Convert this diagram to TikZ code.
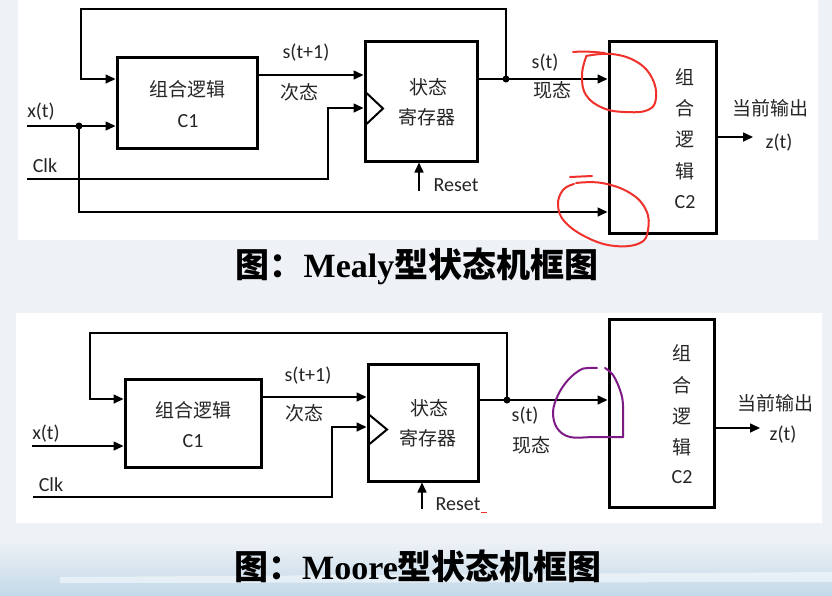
\documentclass[tikz,border=0pt]{standalone}
\usepackage{fontspec}
\setmainfont{Liberation Serif}
\newfontfamily\lab{Carlito}
\newfontfamily\cjk{Noto Sans CJK SC}
\usetikzlibrary{arrows.meta,calc}
\definecolor{bgc}{HTML}{EEF2F6}
\definecolor{bandc}{HTML}{C3D9E9}
\definecolor{txt}{HTML}{262626}
\definecolor{redpen}{HTML}{F0302A}
\definecolor{purplepen}{HTML}{7E1A86}
\begin{document}
\begin{tikzpicture}[x=1pt,y=-1pt,
  box/.style={draw=black,line width=3pt,inner sep=0pt},
  wire/.style={line width=1.6pt},
  arr/.style={line width=1.6pt,-{Triangle[length=10pt,width=9pt]}},
  lbl/.style={inner sep=0pt,text=txt,font=\lab\fontsize{20}{22}\selectfont},
  cn/.style={inner sep=0pt,text=txt,font=\cjk\fontsize{19}{21}\selectfont},
  captxt/.style={inner sep=0pt,text=black,font=\fontsize{34}{36}\selectfont\bfseries},
  pen/.style={line width=2pt,line cap=round,line join=round}]
\useasboundingbox (0,0) rectangle (832,595);
% background
\fill[bgc] (0,0) rectangle (832,595);
\fill[white] (18,0) rectangle (818,240);
\fill[white] (16,313) rectangle (822,523);
\shade[top color=bgc,bottom color=bandc] (0,540) rectangle (832,595);
\fill[white,opacity=0.5] (60,577) -- (832,572) -- (832,582) -- (60,583) -- cycle;

% ================= Mealy =================
\node[box,minimum width=140,minimum height=91] (C1a) at (187,102.5) {};
\node[box,minimum width=112,minimum height=120] (Ra) at (421,101) {};
\node[box,minimum width=107,minimum height=192] (C2a) at (662.5,137) {};

\node[cn] (C1atxt) at (187,89) {组合逻辑};
\node[lbl] (C1aname) at (188,121) {C1};
\node[cn] (Ratxt1) at (428,87) {状态};
\node[cn] (Ratxt2) at (427,117) {寄存器};
\node[cn] (C2at1) at (685,77) {组};
\node[cn] (C2at2) at (685,108) {合};
\node[cn] (C2at3) at (685,140) {逻};
\node[cn] (C2at4) at (685,171) {辑};
\node[lbl] (C2at5) at (685,202) {C2};

\coordinate (xinA) at (27,126);
\coordinate (xdotA) at (79,126);
\coordinate (lowA) at (79,212);
\coordinate (sdotA) at (506,79);
\coordinate (topRA) at (506,9);
\coordinate (topLA) at (81,9);
\coordinate (fbA) at (81,79);
\coordinate (clkA) at (27,179);
\coordinate (clkTA) at (328,179);
\coordinate (clkUA) at (328,108);
\coordinate (resetA) at (419,191);
\coordinate (zA) at (753,137);

\draw[wire] (xinA) -- (xdotA);
\draw[arr] (xdotA) -- (C1a.west |- xdotA);
\draw[arr] (xdotA) -- (lowA) -- (C2a.west |- lowA);
\draw[arr] (C1a.east |- 0,75) -- (Ra.west |- 0,75);
\draw[arr] (Ra.east |- sdotA) -- (C2a.west |- sdotA);
\draw[arr] (sdotA) -- (topRA) -- (topLA) -- (fbA) -- (C1a.west |- fbA);
\draw[arr] (clkA) -- (clkTA) -- (clkUA) -- (Ra.west |- clkUA);
\draw[line width=2pt,line join=miter] (366.5,93) -- (383,108.5) -- (366.5,124);
\draw[arr] (resetA) -- (resetA |- Ra.south);
\draw[arr] (C2a.east |- zA) -- (zA);
\fill (xdotA) circle (3.5);
\fill (sdotA) circle (3.5);

\node[lbl] (xlblA) at (41,112) {x(t)};
\node[lbl] (clklblA) at (45,166) {Clk};
\node[lbl] (s1lblA) at (306,53) {s(t+1)};
\node[cn] (nxtA) at (299,92) {次态};
\node[lbl] (rstlblA) at (456,185) {Reset};
\node[lbl] (slblA) at (545,63) {s(t)};
\node[cn] (curA) at (552,90) {现态};
\node[cn] (outA) at (770,108) {当前输出};
\node[lbl] (zlblA) at (779,143) {z(t)};

\node[captxt] (capA) at (417,266) {{\cjk 图：}Mealy{\cjk 型状态机框图}};

% red hand-drawn marks
\draw[pen,redpen] (573,52) .. controls (585,51) and (595,52) .. (605,53);
\draw[pen,redpen] plot[smooth,tension=0.7] coordinates {(586,56) (612,54) (637,62) (652,78) (656,98) (648,110) (625,112) (603,108) (586,95) (582,75) (586,57)};
\draw[pen,redpen] (570,177) -- (592,176);
\draw[pen,redpen] plot[smooth,tension=0.7] coordinates {(576,183) (602,183) (630,193) (646,210) (648,230) (640,243) (615,246) (588,238) (565,222) (558,205) (563,190) (574,184)};

% ================= Moore =================
\node[box,minimum width=136,minimum height=88] (C1b) at (193,423) {};
\node[box,minimum width=110,minimum height=117] (Rb) at (423,422.5) {};
\node[box,minimum width=105,minimum height=188] (C2b) at (661.5,413) {};

\node[cn] (C1btxt) at (193,410) {组合逻辑};
\node[lbl] (C1bname) at (193,441) {C1};
\node[cn] (Rbtxt1) at (429,408) {状态};
\node[cn] (Rbtxt2) at (428,438) {寄存器};
\node[cn] (C2bt1) at (682,353) {组};
\node[cn] (C2bt2) at (682,385) {合};
\node[cn] (C2bt3) at (682,417) {逻};
\node[cn] (C2bt4) at (682,447) {辑};
\node[lbl] (C2bt5) at (682,477) {C2};

\coordinate (xinB) at (32,446);
\coordinate (sdotB) at (507,400);
\coordinate (topRB) at (507,333);
\coordinate (topLB) at (90,333);
\coordinate (fbB) at (90,399);
\coordinate (clkB) at (33,497);
\coordinate (clkTB) at (332,497);
\coordinate (clkUB) at (332,427);
\coordinate (resetB) at (422,509);
\coordinate (zB) at (760,428);

\draw[arr] (xinB) -- (C1b.west |- xinB);
\draw[arr] (C1b.east |- 0,397) -- (Rb.west |- 0,397);
\draw[arr] (Rb.east |- sdotB) -- (C2b.west |- sdotB);
\draw[arr] (sdotB) -- (topRB) -- (topLB) -- (fbB) -- (C1b.west |- fbB);
\draw[arr] (clkB) -- (clkTB) -- (clkUB) -- (Rb.west |- clkUB);
\draw[line width=2pt,line join=miter] (369.5,415) -- (387,429.5) -- (369.5,444);
\draw[arr] (resetB) -- (resetB |- Rb.south);
\draw[arr] (C2b.east |- zB) -- (zB);
\fill (sdotB) circle (3.5);

\node[lbl] (xlblB) at (46,434) {x(t)};
\node[lbl] (clklblB) at (51,485) {Clk};
\node[lbl] (s1lblB) at (308,376) {s(t+1)};
\node[cn] (nxtB) at (304,413) {次态};
\node[lbl] (rstlblB) at (458,504) {Reset};
\draw[redpen,line width=1pt] (481,512) -- (487,512);
\node[lbl] (slblB) at (525,416) {s(t)};
\node[cn] (curB) at (531,445) {现态};
\node[cn] (outB) at (775,403) {当前输出};
\node[lbl] (zlblB) at (783,435) {z(t)};

\node[captxt] (capB) at (418,566) {{\cjk 图：}Moore{\cjk 型状态机框图}};

% purple hand-drawn mark
\draw[pen,purplepen] plot[smooth,tension=0.6] coordinates {(597,368) (588,368) (580,370) (568,380) (558,395) (553,412) (557,428) (570,437) (595,437) (623,437)};
\draw[pen,purplepen] plot[smooth,tension=0.6] coordinates {(605,368) (613,375) (620,390) (623,405) (623,437)};
\end{tikzpicture}
\end{document}
